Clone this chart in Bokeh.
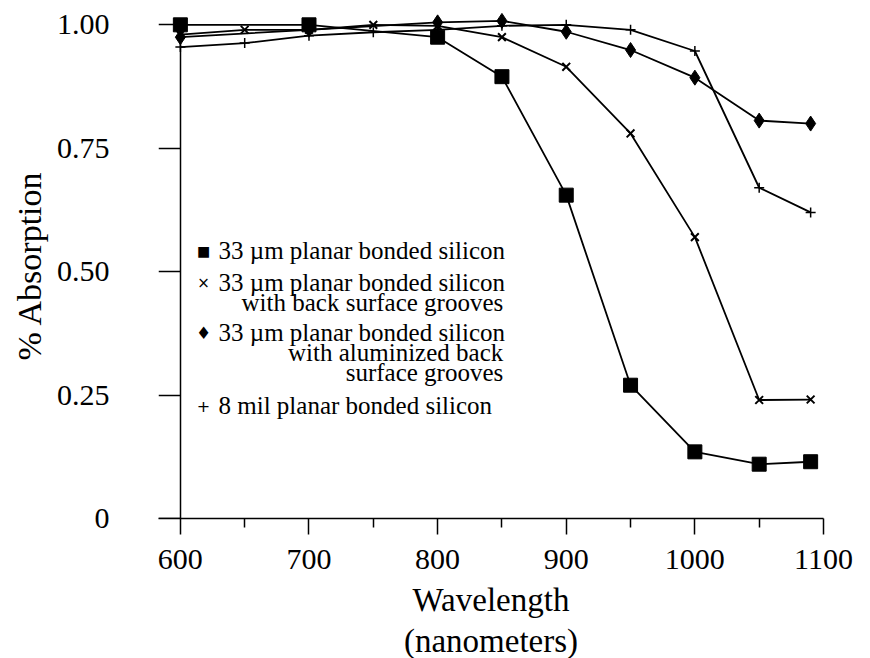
from math import pi
from bokeh.plotting import figure
from bokeh.models import FixedTicker, Label, Range1d, LinearAxis, Title
from bokeh.embed import file_html
from bokeh.resources import INLINE

# ---------------- data ----------------
wl_sq = [600, 700, 800, 850, 900, 950, 1000, 1050, 1090]
ab_sq = [1.00, 1.00, 0.975, 0.895, 0.655, 0.27, 0.135, 0.11, 0.115]

wl_x = [600, 650, 700, 750, 800, 850, 900, 950, 1000, 1050, 1090]
ab_x = [0.98, 0.99, 0.99, 1.00, 0.998, 0.975, 0.915, 0.78, 0.57, 0.24, 0.241]

wl_d = [600, 700, 800, 850, 900, 950, 1000, 1050, 1090]
ab_d = [0.975, 0.99, 1.005, 1.008, 0.986, 0.949, 0.893, 0.806, 0.80]

wl_p = [600, 650, 700, 750, 800, 850, 900, 950, 1000, 1050, 1090]
ab_p = [0.955, 0.963, 0.978, 0.985, 0.99, 0.998, 1.00, 0.99, 0.947, 0.67, 0.62]

x_ticks = [600, 700, 800, 900, 1000, 1100]
x_tick_labels = ["600", "700", "800", "900", "1000", "1100"]
x_minor = [650, 750, 850, 950, 1050]
y_ticks = [0, 0.25, 0.50, 0.75, 1.00]
y_tick_labels = ["0", "0.25", "0.50", "0.75", "1.00"]

legend_symbols = ["\u25a0", "\u00d7", "\u2666", "+"]
legend_first = ["33 \u00b5m planar bonded silicon",
                "33 \u00b5m planar bonded silicon",
                "33 \u00b5m planar bonded silicon",
                "8 mil planar bonded silicon"]
legend_more = [[], ["with back surface grooves"],
               ["with aluminized back", "surface grooves"], []]

x_title = ["Wavelength", "(nanometers)"]
y_title = "% Absorption"

# ---------------- layout ----------------
FONT = "Liberation Serif"
FW, FH = 665, 506
BL, BR, BT, BB = 158, 35, 12, 132
X0, X1 = 583, 1100
Y0, Y1 = 0.0, 1.025
SX = FW / (X1 - X0)
SY = FH / (Y1 - Y0)


def dx(page_x):
    return X0 + (page_x - BL) / SX


def dy(page_y):
    return Y1 - (page_y - BT) / SY


p = figure(frame_width=FW, frame_height=FH,
           min_border_left=BL, min_border_right=BR,
           min_border_top=BT, min_border_bottom=BB,
           x_range=Range1d(X0, X1), y_range=Range1d(Y0, Y1),
           output_backend="svg", toolbar_location=None)
p.outline_line_color = None
p.xgrid.visible = False
p.ygrid.visible = False
p.background_fill_color = "white"
p.border_fill_color = "white"

# x axis (normal, at y = 0)
xa = p.xaxis[0]
xa.ticker = FixedTicker(ticks=x_ticks, minor_ticks=x_minor)
xa.major_label_overrides = {t: l for t, l in zip(x_ticks, x_tick_labels)}
xa.axis_line_width = 1.5
xa.major_tick_line_width = 1.5
xa.minor_tick_line_width = 1.5
xa.major_tick_in = 0
xa.minor_tick_in = 0
xa.major_tick_out = 16
xa.minor_tick_out = 9
xa.major_label_standoff = 15
xa.major_label_text_font = FONT
xa.major_label_text_font_size = "30px"
xa.major_label_text_color = "black"
xa.axis_label = x_title[0]
xa.axis_label_text_font = FONT
xa.axis_label_text_font_size = "33px"
xa.axis_label_text_font_style = "normal"
xa.axis_label_text_color = "black"
xa.axis_label_standoff = 10
p.add_layout(Title(text=x_title[1], align="center", text_font=FONT,
                   text_font_size="33px", text_font_style="normal",
                   text_color="black", standoff=0, offset=0), "below")

# y axis line + ticks, fixed at x = 600 so that markers at 600 are not cut
ya = p.yaxis[0]
ya.fixed_location = 600
ya.bounds = (0, 1.0)
ya.ticker = FixedTicker(ticks=y_ticks, minor_ticks=[])
ya.axis_line_width = 1.5
ya.major_tick_line_width = 1.5
ya.major_tick_in = 0
ya.major_tick_out = 22
ya.minor_tick_out = 0
ya.minor_tick_in = 0
ya.major_label_standoff = 0
ya.major_label_text_font_size = "0px"
ya.major_label_text_alpha = 0

# y tick labels and title (normal axis, line/ticks hidden)
yl = LinearAxis(ticker=FixedTicker(ticks=y_ticks, minor_ticks=[]))
yl.major_label_overrides = {t: l for t, l in zip(y_ticks, y_tick_labels)}
yl.axis_line_color = None
yl.major_tick_line_color = None
yl.minor_tick_line_color = None
yl.major_tick_out = 0
yl.major_tick_in = 0
yl.minor_tick_out = 0
yl.minor_tick_in = 0
yl.major_label_standoff = 49
yl.major_label_text_font = FONT
yl.major_label_text_font_size = "30px"
yl.major_label_text_color = "black"
yl.axis_label = y_title
yl.axis_label_text_font = FONT
yl.axis_label_text_font_size = "34px"
yl.axis_label_text_font_style = "normal"
yl.axis_label_text_color = "black"
yl.axis_label_standoff = 6
p.add_layout(yl, "left")

# series
LW = 1.8
p.line(wl_sq, ab_sq, line_color="black", line_width=LW)
p.scatter(wl_sq, ab_sq, marker="square", size=14, fill_color="black", line_color="black")

p.line(wl_x, ab_x, line_color="black", line_width=LW)
p.scatter(wl_x, ab_x, marker="x", size=11, line_color="black", line_width=2)

p.line(wl_d, ab_d, line_color="black", line_width=LW)
p.scatter(wl_d, ab_d, marker="diamond", size=15, fill_color="black", line_color="black")

p.line(wl_p, ab_p, line_color="black", line_width=LW)
p.scatter(wl_p, ab_p, marker="cross", size=10, line_color="black", line_width=1.5)

# legend (manual, multi-line entries)
LEG_FS = 25
first_y = [250, 282, 332, 405]
text_left = 218
text_right = 218 + 11.39 * LEG_FS
sym_sizes = ["14px", "15px", "17px", "16px"]
for sym, txt, more, yy, ss in zip(legend_symbols, legend_first, legend_more, first_y, sym_sizes):
    p.add_layout(Label(x=dx(203), y=dy(yy), text=sym, text_font="DejaVu Sans",
                       text_font_size=ss, text_color="black",
                       text_align="center", text_baseline="middle"))
    p.add_layout(Label(x=dx(text_left), y=dy(yy), text=txt, text_font=FONT,
                       text_font_size=f"{LEG_FS}px", text_color="black",
                       text_align="left", text_baseline="middle"))
    for k, m in enumerate(more):
        p.add_layout(Label(x=dx(text_right), y=dy(yy + 20 * (k + 1)), text=m,
                           text_font=FONT, text_font_size=f"{LEG_FS}px",
                           text_color="black", text_align="right",
                           text_baseline="middle"))

open("out.html", "w").write(file_html(p, INLINE))
